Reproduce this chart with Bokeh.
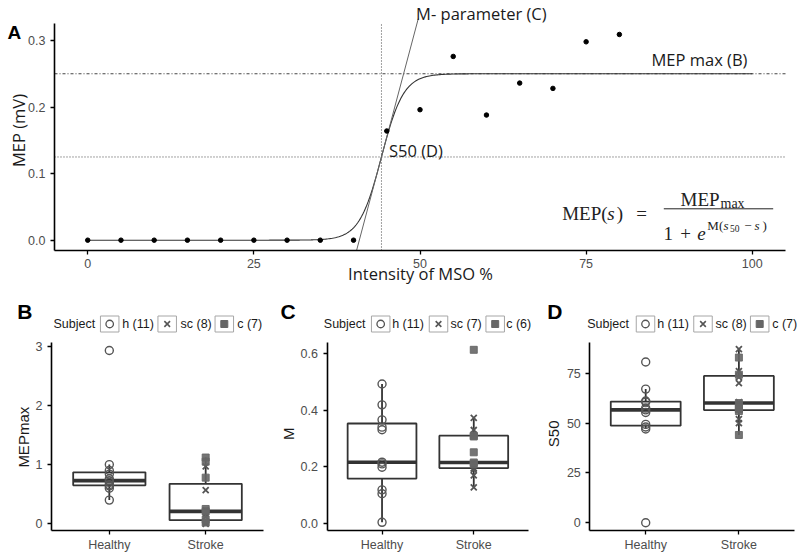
import numpy as np
from bokeh.plotting import figure
from bokeh.layouts import column, row
from bokeh.models import Range1d, Label, PrintfTickFormatter
from bokeh.embed import file_html
from bokeh.resources import INLINE

# ---------------- data ----------------
# Panel A: recruitment curve of one subject
intensity = [0, 5, 10, 15, 20, 25, 30, 35, 40, 45, 50, 55, 60, 65, 70, 75, 80]
mep_mv = [0, 0, 0, 0, 0, 0, 0, 0, 0, 0.164, 0.196, 0.276, 0.188, 0.236, 0.228, 0.298, 0.309]
mep_max = 0.25
m_param = 0.6
s50 = 44.2
a_xticks = [0, 25, 50, 75, 100]
a_yticks = [0, 0.1, 0.2, 0.3]

groups = ["Healthy", "Stroke"]
subject_keys = ["h", "sc", "c"]

# Panel B: MEPmax
mepmax_h = [2.93, 1.00, 0.90, 0.84, 0.76, 0.73, 0.70, 0.66, 0.64, 0.60, 0.40]
mepmax_sc = [0.97, 0.57, 0.22, 0.17, 0.12, 0.05, 0.03, 0.00]
mepmax_c = [1.12, 1.05, 0.78, 0.25, 0.21, 0.07, 0.02]
b_yticks = [0, 1, 2, 3]

# Panel C: M
m_h = [0.493, 0.419, 0.366, 0.340, 0.331, 0.216, 0.210, 0.198, 0.118, 0.104, 0.003]
m_sc = [0.373, 0.330, 0.205, 0.195, 0.190, 0.169, 0.127]
m_c = [0.614, 0.310, 0.307, 0.251, 0.215, 0.210]
c_yticks = [0, 0.2, 0.4, 0.6]

# Panel D: S50
s50_h = [80.6, 67.0, 61.0, 60.5, 57.5, 56.6, 55.3, 49.3, 48.0, 47.0, 0.0]
s50_sc = [87.0, 76.0, 73.0, 70.0, 60.5, 59.0, 52.0, 50.0]
s50_c = [82.8, 74.2, 60.0, 57.5, 57.0, 56.0, 44.0]
d_yticks = [0, 25, 50, 75]

# ---------------- styling helpers ----------------
SANS = "Liberation Sans"
HUM = "Open Sans"
SERIF = "Liberation Serif"
INK = "#1a1a1a"
TICK = "#4d4d4d"
BOXC = "#333333"
PTC = "#555555"


def add_label(p, x, y, text, font=SANS, size="12px", color=INK, align="left",
              baseline="middle", angle=0.0, style="normal"):
    p.add_layout(Label(x=x, y=y, text=text, text_font=font, text_font_size=size,
                       text_color=color, text_align=align, text_baseline=baseline,
                       angle=angle, text_font_style=style))


def style_axes(p, xstand=4, ystand=5):
    for ax in list(p.xaxis) + list(p.yaxis):
        ax.axis_line_color = "black"
        ax.axis_line_width = 1.6
        ax.major_tick_line_color = "black"
        ax.major_tick_line_width = 1.3
        ax.major_tick_in = 0
        ax.major_tick_out = 4
        ax.minor_tick_line_color = None
        ax.major_label_text_font = SANS
        ax.major_label_text_font_size = "12.5px"
        ax.major_label_text_color = TICK
    for ax in p.xaxis:
        ax.major_label_standoff = xstand
    for ax in p.yaxis:
        ax.major_label_standoff = ystand
    p.xgrid.grid_line_color = None
    p.ygrid.grid_line_color = None
    p.outline_line_color = None
    p.background_fill_color = "white"
    p.border_fill_color = "white"


class PixMap:
    """Maps page pixels of a figure (whose frame fills the whole figure) to data."""

    def __init__(self, fig_left, fig_top, px_a, xa, px_b, xb, py_a, ya, py_b, yb):
        self.fl, self.ft = fig_left, fig_top
        self.xppu = (px_b - px_a) / (xb - xa)
        self.yppu = (py_a - py_b) / (yb - ya)
        self.px_a, self.xa, self.py_a, self.ya = px_a, xa, py_a, ya

    def x(self, px):
        return self.xa + (px - self.px_a) / self.xppu

    def y(self, py):
        return self.ya + (self.py_a - py) / self.yppu


def make_fig(m, width, height):
    p = figure(width=width, height=height,
               x_range=Range1d(m.x(m.fl), m.x(m.fl + width)),
               y_range=Range1d(m.y(m.ft + height), m.y(m.ft)),
               output_backend="svg", toolbar_location=None,
               min_border=0, min_border_left=0, min_border_right=0,
               min_border_top=0, min_border_bottom=0)
    return p


# ---------------- Panel A ----------------
A_W, A_H = 800, 287
A_XB = (-5.0, 105.0)
A_YB = (-0.0155, 0.3255)
mA = PixMap(0, 0, 54, A_XB[0], 785, A_XB[1], 250, A_YB[0], 23, A_YB[1])
X, Y = mA.x, mA.y

pA = make_fig(mA, A_W, A_H)
style_axes(pA, xstand=4, ystand=5)
pA.xaxis.ticker = a_xticks
pA.yaxis.ticker = a_yticks
pA.yaxis.formatter = PrintfTickFormatter(format="%.1f")
pA.xaxis.fixed_location = A_YB[0]
pA.yaxis.fixed_location = A_XB[0]
pA.xaxis.bounds = A_XB
pA.yaxis.bounds = A_YB

# reference lines
pA.segment(x0=[A_XB[0]], y0=[mep_max], x1=[A_XB[1]], y1=[mep_max],
           line_color="#444444", line_width=1, line_dash="3 2 1 2")
pA.segment(x0=[A_XB[0]], y0=[mep_max / 2], x1=[A_XB[1]], y1=[mep_max / 2],
           line_color="#444444", line_width=1, line_dash="1 2")
pA.segment(x0=[s50], y0=[A_YB[0]], x1=[s50], y1=[A_YB[1]],
           line_color="#444444", line_width=1, line_dash="1 2")

# fitted sigmoid
s_grid = np.linspace(0, 100, 501)
fit = mep_max / (1 + np.exp(m_param * (s50 - s_grid)))
pA.line(s_grid, fit, line_color="#333333", line_width=1.1)

# tangent at S50 (slope M * MEPmax / 4)
k = mep_max * m_param / 4
t_y = np.array([A_YB[0], Y(18)])
t_x = s50 + (t_y - mep_max / 2) / k
pA.line(t_x, t_y, line_color="#666666", line_width=1)

pA.scatter(intensity, mep_mv, size=4.5, color="black")

add_label(pA, X(7), Y(31.5), "A", font=SANS, size="19px", color="black", style="bold")
add_label(pA, X(415.6), Y(12.5), "M- parameter (C)", font=HUM, size="16.5px")
add_label(pA, X(651), Y(58.5), "MEP max (B)", font=HUM, size="16.5px")
add_label(pA, X(388.5), Y(150), "S50 (D)", font=HUM, size="16.5px")
add_label(pA, X(17.5), Y(130), "MEP (mV)", font=HUM, size="16.5px", align="center", angle=np.pi / 2)
add_label(pA, X(420), Y(273), "Intensity of MSO %", font=HUM, size="16.5px", align="center")

# formula  MEP(s) = MEP_max / (1 + e^{M(s50 - s)})
FC = "#222222"
fb = "alphabetic"
add_label(pA, X(561.7), Y(213.3), "MEP", SERIF, "19px", FC, baseline=fb)
add_label(pA, X(600.7), Y(213.3), "(", SERIF, "19px", FC, baseline=fb)
add_label(pA, X(606.7), Y(213.3), "s", SERIF, "19px", FC, baseline=fb, style="italic")
add_label(pA, X(616.2), Y(213.3), ")", SERIF, "19px", FC, baseline=fb)
add_label(pA, X(641), Y(213.3), "=", SERIF, "19px", FC, align="center", baseline=fb)
add_label(pA, X(680), Y(199), "MEP", SERIF, "19px", FC, baseline=fb)
add_label(pA, X(720), Y(203.3), "max", SERIF, "14px", FC, baseline=fb)
pA.segment(x0=[X(663.3)], y0=[Y(208.3)], x1=[X(772.7)], y1=[Y(208.3)],
           line_color=FC, line_width=1)
add_label(pA, X(663), Y(233.3), "1", SERIF, "19px", FC, baseline=fb)
add_label(pA, X(685), Y(233.3), "+", SERIF, "19px", FC, align="center", baseline=fb)
add_label(pA, X(696.7), Y(233.3), "e", SERIF, "19px", FC, baseline=fb, style="italic")
add_label(pA, X(706.7), Y(225), "M", SERIF, "13px", FC, baseline=fb)
add_label(pA, X(718.5), Y(225), "(", SERIF, "13px", FC, baseline=fb)
add_label(pA, X(723), Y(225), "s", SERIF, "13px", FC, baseline=fb, style="italic")
add_label(pA, X(729.5), Y(227.5), "50", SERIF, "9.5px", FC, baseline=fb)
add_label(pA, X(747.5), Y(225), "\u2212", SERIF, "13px", FC, align="center", baseline=fb)
add_label(pA, X(754), Y(225), "s", SERIF, "13px", FC, baseline=fb, style="italic")
add_label(pA, X(762), Y(225), ")", SERIF, "13px", FC, baseline=fb)


# ---------------- Panels B, C, D ----------------
BOT_TOP = 287
BOT_H = 555 - BOT_TOP
AX_BOT, AX_TOP = 530, 341.7      # page y of the bottom/top of the y axis
XB = (0.4, 2.6)


def box_stats(vals):
    a = np.asarray(vals, dtype=float)
    q1, med, q3 = np.percentile(a, [25, 50, 75])
    iqr = q3 - q1
    lo = a[a >= q1 - 1.5 * iqr].min()
    hi = a[a <= q3 + 1.5 * iqr].max()
    return q1, med, q3, lo, hi


def box_panel(fig_left, width, ax_left, ax_right, ybounds, yticks, yfmt,
              vh, vsc, vc, ylabel, letter, lay):
    y0, y1 = ybounds
    m = PixMap(fig_left, BOT_TOP, ax_left, XB[0], ax_right, XB[1], AX_BOT, y0, AX_TOP, y1)
    p = make_fig(m, width, BOT_H)
    style_axes(p, xstand=3, ystand=5)
    p.xaxis.ticker = [1, 2]
    p.xaxis.major_label_overrides = {i + 1: g for i, g in enumerate(groups)}
    p.yaxis.ticker = yticks
    if yfmt:
        p.yaxis.formatter = PrintfTickFormatter(format=yfmt)
    p.xaxis.fixed_location = y0
    p.yaxis.fixed_location = XB[0]
    p.xaxis.bounds = XB
    p.yaxis.bounds = (y0, y1)

    stroke = list(vsc) + list(vc)
    bw = 0.375
    for xi, vals in ((1, vh), (2, stroke)):
        q1, med, q3, lo, hi = box_stats(vals)
        p.segment(x0=[xi, xi], y0=[q3, q1], x1=[xi, xi], y1=[hi, lo],
                  line_color=BOXC, line_width=1.8)
        p.quad(left=[xi - bw], right=[xi + bw], bottom=[q1], top=[q3],
               fill_color="white", line_color=BOXC, line_width=1.8)
        p.segment(x0=[xi - bw], y0=[med], x1=[xi + bw], y1=[med],
                  line_color=BOXC, line_width=3.6)

    p.scatter([1] * len(vh), vh, marker="circle", size=8, fill_color=None,
              line_color=PTC, line_width=1.4)
    p.scatter([2] * len(vsc), vsc, marker="x", size=8.5, line_color=PTC, line_width=1.8)
    p.scatter([2] * len(vc), vc, marker="square", size=7, fill_color="#666666",
              line_color="#666666", line_alpha=0.9, fill_alpha=0.9)

    # legend
    ly = m.y(lay["legend_y"])
    add_label(p, m.x(lay["subject_x"]), ly, "Subject", SANS, "12.5px", INK)
    counts = [len(vh), len(vsc), len(vc)]
    bx = [m.x(v) for v in lay["box_cx"]]
    p.rect(x=bx, y=[ly] * 3, width=18.5, height=16, width_units="screen",
           height_units="screen", fill_color="white", line_color="#a6a6a6", line_width=1)
    p.scatter([bx[0]], [ly], marker="circle", size=7.5, fill_color=None, line_color=PTC, line_width=1.3)
    p.scatter([bx[1]], [ly], marker="x", size=8, line_color=PTC, line_width=1.6)
    p.scatter([bx[2]], [ly], marker="square", size=7, fill_color="#666666", line_color="#666666")
    for tx, key, n in zip(lay["text_x"], subject_keys, counts):
        add_label(p, m.x(tx), ly, f"{key} ({n})", SANS, "12.5px", INK)

    add_label(p, m.x(lay["letter_x"]), m.y(310.5), letter, SANS, "21px", "black", style="bold")
    add_label(p, m.x(lay["ylabel_x"]), m.y(lay["ylabel_y"]), ylabel, SANS, "15px", INK,
              align="center", angle=np.pi / 2)
    return p


pB = box_panel(0, 270, 51, 263, (-0.114, 3.07), b_yticks, None,
               mepmax_h, mepmax_sc, mepmax_c, "MEPmax", "B",
               dict(letter_x=16.7, ylabel_x=22.5, ylabel_y=436.7, legend_y=323.5, subject_x=53,
                    box_cx=[109.2, 166.7, 223.8], text_x=[121.7, 180, 236.7]))
pC = box_panel(270, 265, 326.5, 528.3, (-0.026, 0.641), c_yticks, "%.1f",
               m_h, m_sc, m_c, "M", "C",
               dict(letter_x=280, ylabel_x=287.5, ylabel_y=433.3, legend_y=323.5, subject_x=323.3,
                    box_cx=[380.2, 438, 494.7], text_x=[391.7, 450, 505.7]))
pD = box_panel(535, 265, 589.3, 794.3, (-3.86, 90.5), d_yticks, None,
               s50_h, s50_sc, s50_c, "S50", "D",
               dict(letter_x=546.7, ylabel_x=552.5, ylabel_y=433.3, legend_y=323.5, subject_x=586.7,
                    box_cx=[645, 702.5, 759.2], text_x=[656.7, 715, 771.7]))

layout = column(pA, row(pB, pC, pD))

with open("out.html", "w") as f:
    f.write(file_html(layout, INLINE))
